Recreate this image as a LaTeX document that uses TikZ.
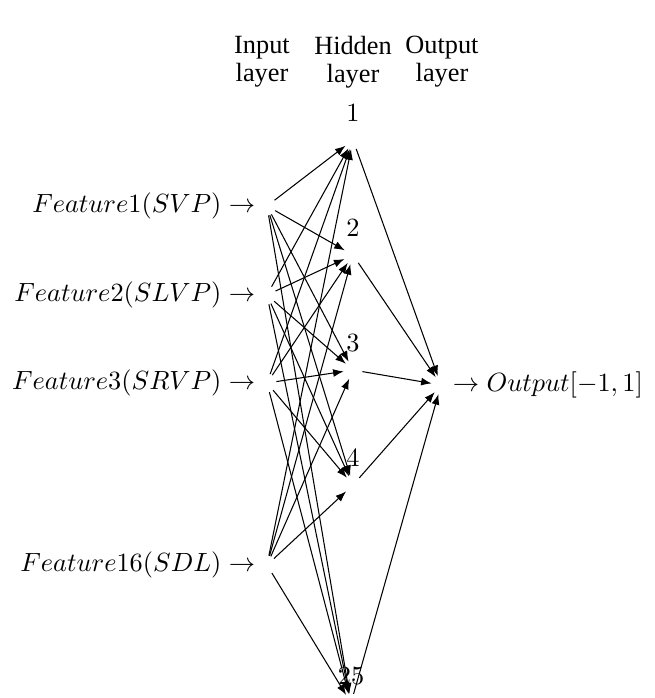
\documentclass[tikz,border=0pt]{standalone}
\usepackage{fontspec}
\newfontfamily\hdrfont{Liberation Serif}
\usetikzlibrary{arrows.meta}
\begin{document}
\begin{tikzpicture}[x=0.38pt,y=-0.38pt,
  neuron/.style={circle,inner sep=0pt,minimum size=6.8pt},
  conn/.style={-{Latex[length=4pt,width=3pt]}},
  hdr/.style={font=\hdrfont\fontsize{10}{10.6}\selectfont, align=center}]
\useasboundingbox (0,0) rectangle (655,698);
% header
\node[hdr] (hI) at (262,62) {Input\\layer};
\node[hdr] (hH) at (353,62) {Hidden\\layer};
\node[hdr] (hO) at (442,62) {Output\\layer};
% input layer
\node[neuron, label={[xshift=2.6pt]left:{$Feature1(SVP) \rightarrow$}}] (I1) at (267,206) {};
\node[neuron, label={[xshift=2.6pt]left:{$Feature2(SLVP) \rightarrow$}}] (I2) at (267,295) {};
\node[neuron, label={[xshift=2.6pt]left:{$Feature3(SRVP) \rightarrow$}}] (I3) at (267,383) {};
\node[neuron, label={[xshift=2.6pt]left:{$Feature16(SDL) \rightarrow$}}] (I16) at (267,565) {};
% hidden layer
\node[neuron, label=above:$1$] (H1) at (353,140) {};
\node[neuron, label=above:$2$] (H2) at (353,255) {};
\node[neuron, label=above:$3$] (H3) at (353,370) {};
\node[neuron, label=above:$4$] (H4) at (353,485) {};
\node[neuron, label=above:$25$] (H25) at (351,703) {};
% output
\node[neuron, label={[xshift=-2.6pt]right:{$\rightarrow Output[-1,1]$}}] (O) at (441,385) {};
% connections
\foreach \i in {I1,I2,I3,I16}
  \foreach \h in {H1,H2,H3,H4,H25}
    \draw[conn] (\i) -- (\h);
\foreach \h in {H1,H2,H3,H4,H25}
  \draw[conn] (\h) -- (O);
\end{tikzpicture}
\end{document}
